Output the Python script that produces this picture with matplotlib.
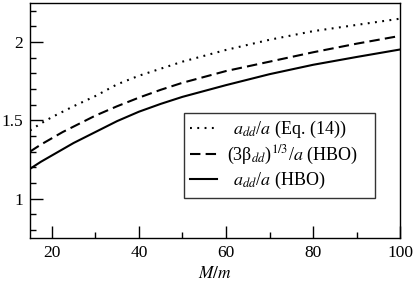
import numpy as np
import matplotlib
matplotlib.use("Agg")
import matplotlib.pyplot as plt
from matplotlib.ticker import MultipleLocator

plt.rcParams['font.family'] = ['Liberation Serif', 'DejaVu Serif']
plt.rcParams['mathtext.fontset'] = 'stix'

# values
mass_ratio = [15, 17.5, 20, 22.5, 25, 30, 35, 40, 45, 50, 60, 70, 80, 90, 100]
add_eq14 = [1.435, 1.48, 1.52, 1.555, 1.59, 1.655, 1.73, 1.785, 1.83, 1.875,
            1.95, 2.015, 2.07, 2.11, 2.15]
beta_hbo = [1.30, 1.345, 1.385, 1.425, 1.46, 1.53, 1.59, 1.645, 1.695, 1.74,
            1.815, 1.875, 1.935, 1.99, 2.04]
add_hbo = [1.19, 1.235, 1.275, 1.315, 1.355, 1.425, 1.495, 1.555, 1.605, 1.65,
           1.725, 1.795, 1.855, 1.905, 1.953]

labels = [r"$\enspace a_{dd}$/$a$ (Eq. (14))",
          r"(3β$_{dd}$)$^{1/3}$/$a$ (HBO)",
          r"$\enspace a_{dd}$/$a$ (HBO)"]

fig = plt.figure(figsize=(4.15, 2.87), dpi=100)
ax = fig.add_axes([0.0723, 0.172, 0.892, 0.8175])

ax.plot(mass_ratio, add_eq14, color='black', lw=1.5, linestyle=(0, (0.9, 2.6)), label=labels[0])
ax.plot(mass_ratio, beta_hbo, color='black', lw=1.5, linestyle=(0, (5, 2.5)), label=labels[1])
ax.plot(mass_ratio, add_hbo, color='black', lw=1.5, linestyle='-', label=labels[2])

ax.set_xlim(15, 100)
ax.set_ylim(0.75, 2.25)
ax.xaxis.set_major_locator(MultipleLocator(20))
ax.xaxis.set_minor_locator(MultipleLocator(10))
ax.yaxis.set_minor_locator(MultipleLocator(0.1))
ax.set_yticks([1, 1.5, 2])
ax.set_yticklabels(['1', '1.5', '2'])
ax.tick_params(which='both', direction='in', labelsize=12.5, width=1)
ax.tick_params(which='major', length=9, pad=5)
ax.tick_params(which='minor', length=4.5)
for s in ax.spines.values():
    s.set_linewidth(1)

ax.set_xlabel(r"$M/m$", fontsize=12.5, labelpad=4)

leg = ax.legend(loc='lower left', bbox_to_anchor=(0.416, 0.17, 0.516, 0.37), mode='expand',
                borderaxespad=0, fontsize=13, frameon=True, fancybox=False,
                edgecolor='black', handlelength=1.5, borderpad=0.35, labelspacing=0.2,
                handletextpad=0.55)
leg.get_frame().set_linewidth(1)

fig.savefig("out.png", dpi=100)
